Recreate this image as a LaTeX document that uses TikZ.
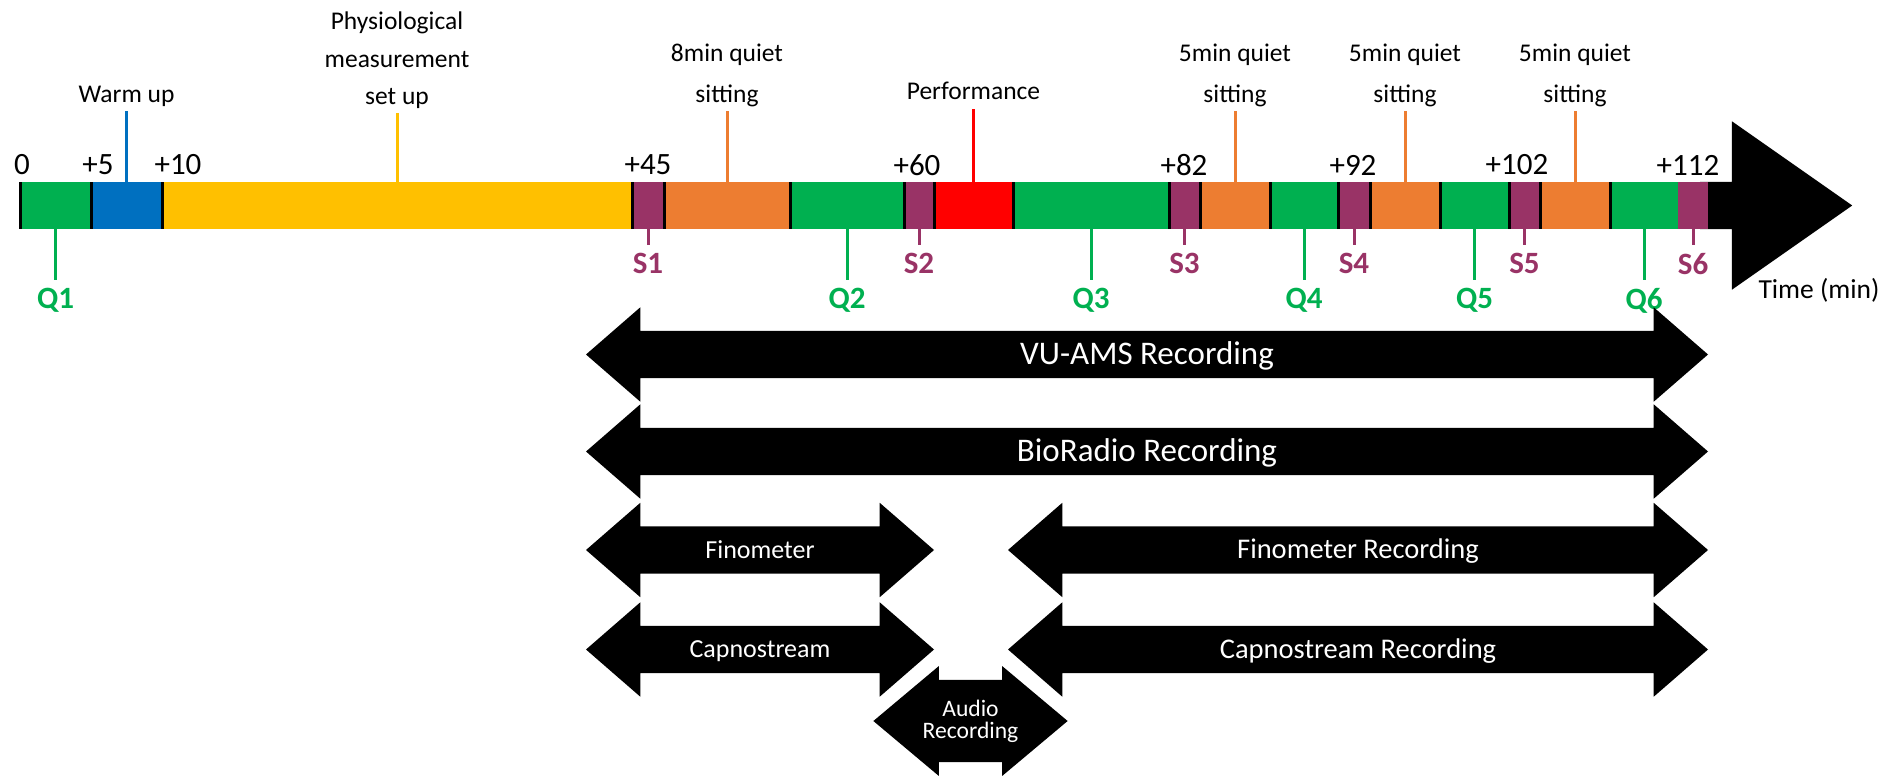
\documentclass[tikz,border=0pt]{standalone}
\usepackage{fontspec}
\setmainfont{Carlito}
\usetikzlibrary{positioning,shapes.arrows}

\definecolor{qgreen}{HTML}{00B050}
\definecolor{wublue}{HTML}{0070C0}
\definecolor{suyellow}{HTML}{FFC000}
\definecolor{sitorange}{HTML}{ED7D31}
\definecolor{perfred}{HTML}{FF0000}
\definecolor{spurple}{HTML}{993366}

\begin{document}
\begin{tikzpicture}[x=1pt,y=-1pt,
    seg/.style={rectangle,inner sep=0pt,outer sep=0pt,minimum height=47pt},
    sep/.style={line width=3pt},
    lead/.style={line width=3pt,shorten >=4pt},
    tick/.style={font=\fontsize{31}{31}\selectfont},
    phase/.style={inner sep=0pt,align=center,font=\fontsize{25.5}{41}\selectfont},
    qlab/.style={inner sep=0pt,text=qgreen,font=\bfseries\fontsize{31}{31}\selectfont},
    slab/.style={inner sep=0pt,text=spurple,font=\bfseries\fontsize{31}{31}\selectfont},
    rec/.style={double arrow,fill=black,text=white,inner sep=0pt,
        double arrow tip angle=82,double arrow head extend=23.5pt,minimum width=94pt},
    recbig/.style={rec,font=\fontsize{33}{33}\selectfont,text height=33.5pt,text depth=13.5pt},
    recmid/.style={rec,font=\fontsize{28.5}{28.5}\selectfont,text height=32pt,text depth=15pt},
    recsmall/.style={rec,font=\fontsize{26}{26}\selectfont,text height=31.5pt,text depth=15.5pt}]
    \useasboundingbox (0,0) rectangle (1901,776);

    \node[single arrow,fill=black,inner sep=0pt,text height=23.5pt,text depth=23.5pt,
        minimum height=152pt,minimum width=168pt,single arrow head extend=60.5pt,
        single arrow tip angle=70,anchor=tail] (timearrow) at (1700,205.5) {};

    \node[seg, fill=qgreen, minimum width=71pt, anchor=west] (q1seg) at (20,205.5) {};
    \node[seg, fill=wublue, minimum width=71pt, right=0pt of q1seg] (wuseg) {};
    \node[seg, fill=suyellow, minimum width=470pt, right=0pt of wuseg] (suseg) {};
    \node[seg, fill=spurple, minimum width=32pt, right=0pt of suseg] (s1seg) {};
    \node[seg, fill=sitorange, minimum width=126pt, right=0pt of s1seg] (sit1seg) {};
    \node[seg, fill=qgreen, minimum width=114pt, right=0pt of sit1seg] (q2seg) {};
    \node[seg, fill=spurple, minimum width=30pt, right=0pt of q2seg] (s2seg) {};
    \node[seg, fill=perfred, minimum width=79pt, right=0pt of s2seg] (perfseg) {};
    \node[seg, fill=qgreen, minimum width=156pt, right=0pt of perfseg] (q3seg) {};
    \node[seg, fill=spurple, minimum width=31pt, right=0pt of q3seg] (s3seg) {};
    \node[seg, fill=sitorange, minimum width=70pt, right=0pt of s3seg] (sit2seg) {};
    \node[seg, fill=qgreen, minimum width=68pt, right=0pt of sit2seg] (q4seg) {};
    \node[seg, fill=spurple, minimum width=32pt, right=0pt of q4seg] (s4seg) {};
    \node[seg, fill=sitorange, minimum width=70pt, right=0pt of s4seg] (sit3seg) {};
    \node[seg, fill=qgreen, minimum width=69pt, right=0pt of sit3seg] (q5seg) {};
    \node[seg, fill=spurple, minimum width=31pt, right=0pt of q5seg] (s5seg) {};
    \node[seg, fill=sitorange, minimum width=70pt, right=0pt of s5seg] (sit4seg) {};
    \node[seg, fill=qgreen, minimum width=68pt, right=0pt of sit4seg] (q6seg) {};
    \node[seg, fill=spurple, minimum width=30pt, right=0pt of q6seg] (s6seg) {};

    \foreach \n in {q1seg,wuseg,suseg,s1seg,sit1seg,q2seg,s2seg,perfseg,q3seg,s3seg,
        sit2seg,q4seg,s4seg,sit3seg,q5seg,s5seg,sit4seg,q6seg}
        \draw[sep] (\n.north west) -- (\n.south west);

    \node[tick] (t0) at (22,165) {0};
    \node[tick] (t5) at (98,165) {+5};
    \node[tick] (t10) at (178,165) {+10};
    \node[tick] (t45) at (648,165) {+45};
    \node[tick] (t60) at (917,165) {+60};
    \node[tick] (t82) at (1184,165) {+82};
    \node[tick] (t92) at (1353,165) {+92};
    \node[tick] (t102) at (1517,165) {+102};
    \node[tick] (t112) at (1688,165) {+112};

    \node[phase, above=75pt of wuseg] (wulab) {Warm up};
    \node[phase, font=\fontsize{25.5}{37.5}\selectfont, above=73pt of suseg] (sulab)
        {Physiological\\measurement\\set up};
    \node[phase, above=75pt of sit1seg] (sit1lab) {8min quiet\\sitting};
    \node[phase, text depth=5pt, above=77pt of perfseg] (perflab) {Performance};
    \node[phase, above=75pt of sit2seg] (sit2lab) {5min quiet\\sitting};
    \node[phase, above=75pt of sit3seg] (sit3lab) {5min quiet\\sitting};
    \node[phase, above=75pt of sit4seg] (sit4lab) {5min quiet\\sitting};

    \draw[lead, wublue] (wuseg.north) -- (wulab.south);
    \draw[lead, suyellow] (suseg.north) -- (sulab.south);
    \draw[lead, sitorange] (sit1seg.north) -- (sit1lab.south);
    \draw[lead, perfred] (perfseg.north) -- (perflab.south);
    \draw[lead, sitorange] (sit2seg.north) -- (sit2lab.south);
    \draw[lead, sitorange] (sit3seg.north) -- (sit3lab.south);
    \draw[lead, sitorange] (sit4seg.north) -- (sit4lab.south);

    \node[qlab, below=59pt of q1seg] (q1) {Q1};
    \node[qlab, below=59pt of q2seg] (q2) {Q2};
    \node[qlab, below=59pt of q3seg] (q3) {Q3};
    \node[qlab, below=59pt of q4seg] (q4) {Q4};
    \node[qlab, below=59pt of q5seg] (q5) {Q5};
    \node[qlab, below=59pt of q6seg] (q6) {Q6};
    \node[slab, below=24pt of s1seg] (s1) {S1};
    \node[slab, below=24pt of s2seg] (s2) {S2};
    \node[slab, below=24pt of s3seg] (s3) {S3};
    \node[slab, below=24pt of s4seg] (s4) {S4};
    \node[slab, below=24pt of s5seg] (s5) {S5};
    \node[slab, below=24pt of s6seg] (s6) {S6};

    \foreach \n in {q1,q2,q3,q4,q5,q6}
        \draw[lead, qgreen, shorten >=8pt] (\n seg.south) -- (\n.north);
    \foreach \n in {s1,s2,s3,s4,s5,s6}
        \draw[lead, spurple, shorten >=8pt] (\n seg.south) -- (\n.north);

    \node[font=\fontsize{27.5}{27.5}\selectfont] (timelab) at (1819,290) {Time (min)};

    \node[recbig, minimum height=1122pt] (vuams) at (1147,354.5) {VU-AMS Recording};
    \node[recbig, minimum height=1122pt] (bioradio) at (1147,451.5) {BioRadio Recording};
    \node[recsmall, minimum height=348pt] (fino) at (760,550) {Finometer};
    \node[recsmall, minimum height=348pt] (capno) at (760,649.5) {Capnostream};
    \node[recmid, minimum height=700pt] (finorec) at (1358,550) {Finometer Recording};
    \node[recmid, minimum height=700pt] (capnorec) at (1358,649.5) {Capnostream Recording};
    \node[rec, align=center, font=\fontsize{23.6}{22}\selectfont, inner ysep=19pt,
        minimum height=185pt, minimum width=110pt, double arrow head extend=13.5pt,
        double arrow tip angle=80] (audio) at (970.5,721) {Audio\\Recording};
\end{tikzpicture}
\end{document}
